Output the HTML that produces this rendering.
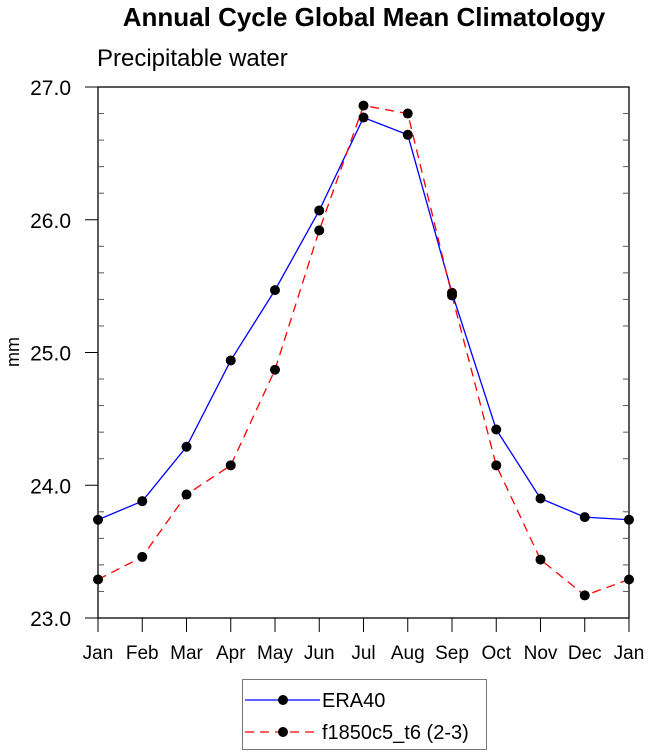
<!DOCTYPE html>
<html><head><meta charset="utf-8"><style>
html,body{margin:0;padding:0;background:#fff}
svg{display:block;font-family:"Liberation Sans",sans-serif}
</style></head><body>
<svg id="chart" width="648" height="756" viewBox="0 0 648 756">
<text x="364" y="26" text-anchor="middle" font-size="26" font-weight="bold">Annual Cycle Global Mean Climatology</text>
<text x="97" y="66" font-size="24">Precipitable water</text>
<text x="19" y="352" font-size="18" text-anchor="middle" transform="rotate(-90 19 352)">mm</text>
<g id="axes"></g>
<g id="series"></g>
<g>
<rect x="242.5" y="679.5" width="244" height="70" fill="#fff" stroke="#777"/>
<g>
<line x1="245" y1="700" x2="320" y2="700" stroke="#0000ff" stroke-width="1.3"/>
<circle cx="283" cy="700" r="5" fill="#000"/>
<text x="322" y="707" font-size="20">ERA40</text></g>
<g>
<line x1="245" y1="732" x2="320" y2="732" stroke="#ff0000" stroke-width="1.3" stroke-dasharray="9,6"/>
<circle cx="283" cy="732" r="5" fill="#000"/>
<text x="322" y="739" font-size="20">f1850c5_t6 (2-3)</text></g>
</g>
</svg>
<script>
const months=["Jan","Feb","Mar","Apr","May","Jun","Jul","Aug","Sep","Oct","Nov","Dec","Jan"];
const era40=[23.74,23.88,24.29,24.94,25.47,26.07,26.77,26.64,25.45,24.42,23.90,23.76,23.74];
const f1850=[23.29,23.46,23.93,24.15,24.87,25.92,26.86,26.80,25.43,24.15,23.44,23.17,23.29];
const yTicks=[23.0,24.0,25.0,26.0,27.0];
const yMin=23,yMax=27;
const L=98,R=629,T=87,B=618;
const NS="http://www.w3.org/2000/svg";
function X(i){return L+(R-L)*i/(months.length-1);}
function Y(v){return B-(v-yMin)/(yMax-yMin)*(B-T);}
function mk(tag,attrs,parent){const e=document.createElementNS(NS,tag);for(const k in attrs)e.setAttribute(k,attrs[k]);parent.appendChild(e);return e;}
const ax=document.getElementById('axes');
const frame=mk('rect',{x:L,y:T,width:R-L,height:B-T,fill:'none',stroke:'#000','stroke-width':1.3},ax);


for(let i=0;i<months.length;i++){
  const x=X(i);
  mk('line',{x1:x,y1:B,x2:x,y2:B+14,stroke:'#000','stroke-width':1},ax);
  const t=mk('text',{x:x,y:B+41,'font-size':19,'text-anchor':'middle'},ax);
  t.textContent=months[i];
  
  
}
for(let v=yMin;v<=yMax+1e-9;v+=0.2){
  const y=Y(v);
  const major=Math.abs(v-Math.round(v))<1e-6;
  if(major){
    mk('line',{x1:L-13,y1:y,x2:L,y2:y,stroke:'#000'},ax);
  }else{
    mk('line',{x1:L,y1:y,x2:L+6,y2:y,stroke:'#555'},ax);
    mk('line',{x1:R-6,y1:y,x2:R,y2:y,stroke:'#555'},ax);
  }
}
yTicks.forEach(v=>{
  const t=mk('text',{x:L-27,y:Y(v)+8,'font-size':21,'text-anchor':'end'},ax);
  t.textContent=v.toFixed(1);
  
  
});
const sg=document.getElementById('series');
function drawSeries(vals,color,dash,name){
  const g=mk('g',{},sg);
  
  
  const pts=vals.map((v,i)=>X(i)+','+Y(v)).join(' ');
  const a={points:pts,fill:'none',stroke:color,'stroke-width':1.3};
  if(dash)a['stroke-dasharray']=dash;
  mk('polyline',a,g);
  vals.forEach((v,i)=>{
    const c=mk('circle',{cx:X(i),cy:Y(v),r:5,fill:'#000'},g);
    
    
  });
}
drawSeries(era40,'#0000ff',null,'era40-series');
drawSeries(f1850,'#ff0000','9,6','f1850c5-series');
</script>
</body></html>
